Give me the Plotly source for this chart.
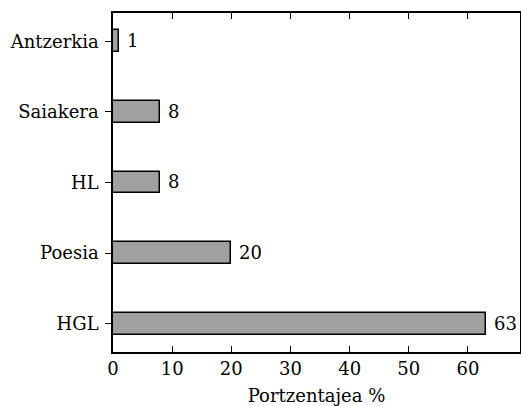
import plotly.graph_objects as go

categories = ["HGL", "Poesia", "HL", "Saiakera", "Antzerkia"]
values = [63, 20, 8, 8, 1]
x_ticks = [0, 10, 20, 30, 40, 50, 60]

FONT = "DejaVu Serif"
SIZE = 18

fig = go.Figure(go.Bar(
    x=values,
    y=categories,
    orientation="h",
    width=0.31,
    marker=dict(color="#a0a0a0", line=dict(color="black", width=1.5)),
    texttemplate=" %{x}",
    textposition="outside",
    constraintext="none",
    cliponaxis=False,
    textfont=dict(family=FONT, size=SIZE, color="black"),
))

fig.update_layout(
    width=521, height=406,
    margin=dict(l=113, r=1, t=13, b=54, autoexpand=False),
    plot_bgcolor="white", paper_bgcolor="white",
    showlegend=False,
    font=dict(family=FONT, size=SIZE, color="black"),
    bargap=0,
)
fig.update_xaxes(
    range=[0, 68.8],
    tickvals=x_ticks,
    ticks="inside", ticklen=6, tickwidth=1, tickcolor="black",
    showline=True, linecolor="black", linewidth=1.5,
    mirror="ticks", showgrid=False, zeroline=False,
    automargin=False,
    title=dict(text="Portzentajea %", font=dict(family=FONT, size=SIZE, color="black"), standoff=12),
    tickfont=dict(family=FONT, size=SIZE),
)
fig.update_yaxes(
    type="category",
    categoryorder="array", categoryarray=categories,
    range=[-0.4, 4.4],
    ticks="outside", ticklen=6, tickwidth=1, tickcolor="black",
    showline=True, linecolor="black", linewidth=1.5,
    mirror=True, showgrid=False, zeroline=False,
    automargin=False,
    ticklabelstandoff=3,
    tickfont=dict(family=FONT, size=SIZE),
)

fig.write_html("out.html", config={"displayModeBar": False},
               post_script="document.body.style.margin='0';")
